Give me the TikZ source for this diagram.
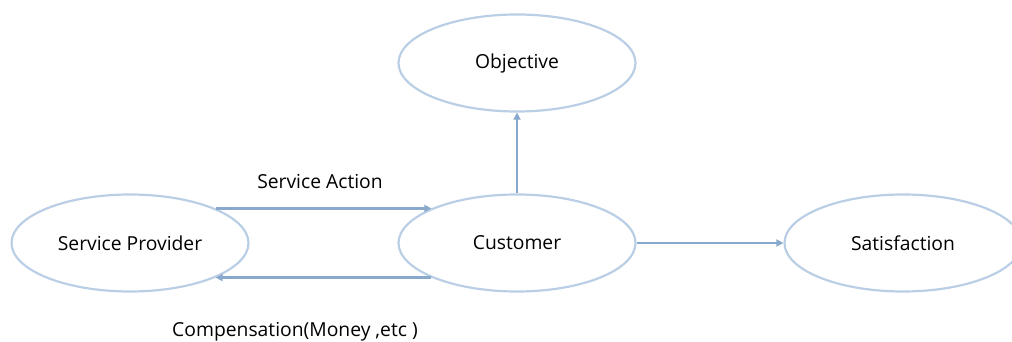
\documentclass[tikz,border=0pt]{standalone}
\usepackage{fontspec}
\setmainfont{Open Sans}
\usetikzlibrary{arrows.meta,shapes.geometric}
\definecolor{ellcol}{RGB}{186,207,229}
\definecolor{arrcol}{RGB}{136,168,204}
\tikzset{
  oval/.style={ellipse, draw=ellcol, line width=2.2pt, minimum width=237pt, minimum height=97pt, inner sep=0pt, font=\fontsize{19.3}{21}\selectfont},
  conn/.style={draw=arrcol, line width=2.6pt, -{Triangle[length=7pt,width=7pt]}},
  lbl/.style={font=\fontsize{19.3}{21}\selectfont, inner sep=0pt}
}
\begin{document}
\begin{tikzpicture}[x=1pt,y=1pt]
\useasboundingbox (0,0) rectangle (1012,342);
\node[oval] (ob) at (517,279) {Objective};
\node[oval] (sp) at (130,99) {Service Provider};
\node[oval] (cu) at (517,99) {Customer};
\node[oval] (sa) at (903,99) {Satisfaction};
\draw[conn] (sp.22) -- (cu.158);
\draw[conn] (cu.202) -- (sp.-22);
\draw[conn] (cu.north) -- (ob.south);
\draw[conn] (cu.east) -- (sa.west);
\node[lbl] (la) at (320,160) {Service Action};
\node[lbl] (lc) at (295,10) {Compensation(Money ,etc )};
\end{tikzpicture}
\end{document}
